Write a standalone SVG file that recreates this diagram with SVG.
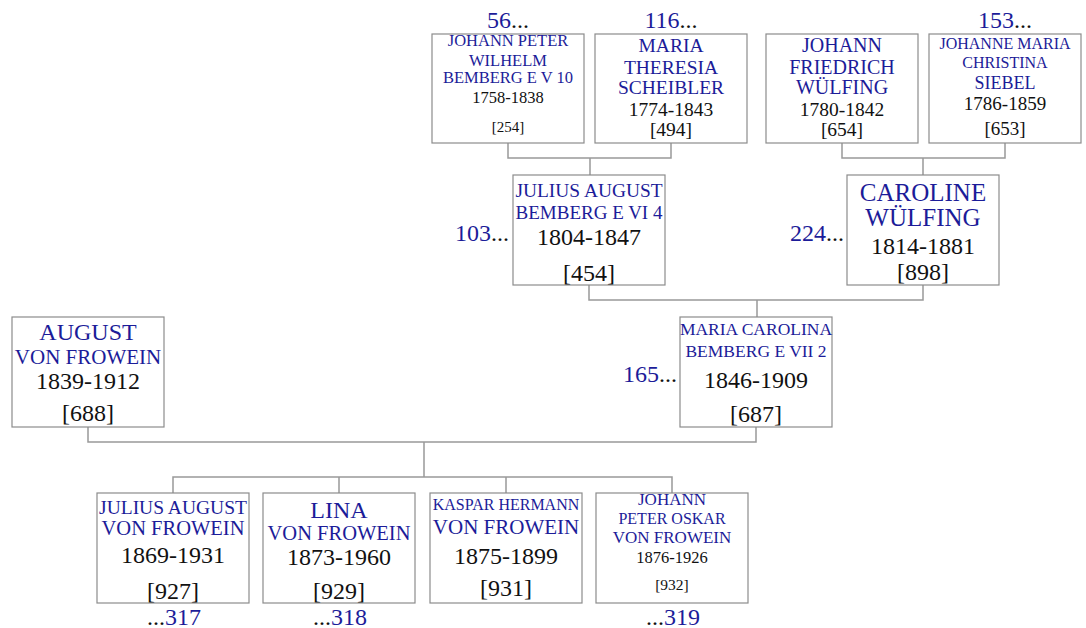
<svg xmlns="http://www.w3.org/2000/svg" width="1086" height="628" viewBox="0 0 1086 628">
<style>
text{font-family:"Liberation Serif","Times New Roman",serif;text-anchor:middle;fill:#111}
.box{fill:#fff;stroke:#8c8c8c;stroke-width:1.2}
.n{fill:#1c1c99}
.d{fill:#111}
.lnk{fill:none;stroke:#999;stroke-width:1.5}
.ref{font-size:24px}
.end{text-anchor:end}
</style>
<rect width="1086" height="628" fill="#fff"/>
<g id="connectors" class="lnk">
<path d="M508,143V158H671V143M590,158V175"/>
<path d="M842,143V158H1005V143M923,158V175"/>
<path d="M589,285V300H923V285M757,300V317"/>
<path d="M88,427V442H756V427M424,442V477"/>
<path d="M173,493V477H672V493M339,477V493M506,477V493"/>
</g>
<g id="n254">
<rect class="box" x="432" y="34" width="152" height="109"/>
<text class="n" x="508" y="45.5" font-size="16.5">JOHANN PETER</text>
<text class="n" x="508" y="65.5" font-size="16.5">WILHELM</text>
<text class="n" x="508" y="82.5" font-size="16.5">BEMBERG E V 10</text>
<text x="508" y="102.5" font-size="16.5">1758-1838</text>
<text x="508" y="131.5" font-size="15">[254]</text>
<text class="ref" x="508" y="28"><tspan class="n">56</tspan><tspan class="d">...</tspan></text>
</g>
<g id="n494">
<rect class="box" x="595" y="34" width="152" height="109"/>
<text class="n" x="671" y="51.5" font-size="19.5">MARIA</text>
<text class="n" x="671" y="73.5" font-size="19.5">THERESIA</text>
<text class="n" x="671" y="93.5" font-size="19.5">SCHEIBLER</text>
<text x="671" y="115.5" font-size="19.5">1774-1843</text>
<text x="671" y="136" font-size="19.5">[494]</text>
<text class="ref" x="671" y="28"><tspan class="n">116</tspan><tspan class="d">...</tspan></text>
</g>
<g id="n654">
<rect class="box" x="766" y="34" width="152" height="109"/>
<text class="n" x="842" y="51.5" font-size="20">JOHANN</text>
<text class="n" x="842" y="73.5" font-size="20">FRIEDRICH</text>
<text class="n" x="842" y="93.5" font-size="20">WÜLFING</text>
<text x="842" y="115.5" font-size="19.5">1780-1842</text>
<text x="842" y="136" font-size="19.5">[654]</text>
</g>
<g id="n653">
<rect class="box" x="929" y="34" width="152" height="109"/>
<text class="n" x="1005" y="48.5" font-size="16">JOHANNE MARIA</text>
<text class="n" x="1005" y="67.5" font-size="16">CHRISTINA</text>
<text class="n" x="1005" y="89" font-size="18">SIEBEL</text>
<text x="1005" y="109.5" font-size="19">1786-1859</text>
<text x="1005" y="134.5" font-size="19">[653]</text>
<text class="ref" x="1005" y="28"><tspan class="n">153</tspan><tspan class="d">...</tspan></text>
</g>
<g id="n454">
<rect class="box" x="513" y="175" width="152" height="110"/>
<text class="n" x="589" y="196.5" font-size="19.4">JULIUS AUGUST</text>
<text class="n" x="589" y="218.5" font-size="19">BEMBERG E VI 4</text>
<text x="589" y="245" font-size="24">1804-1847</text>
<text x="589" y="281" font-size="24">[454]</text>
<text class="ref end" x="509" y="241"><tspan class="n">103</tspan><tspan class="d">...</tspan></text>
</g>
<g id="n898">
<rect class="box" x="847" y="175" width="152" height="110"/>
<text class="n" x="923" y="201" font-size="25">CAROLINE</text>
<text class="n" x="923" y="226" font-size="25">WÜLFING</text>
<text x="923" y="254" font-size="24">1814-1881</text>
<text x="923" y="280" font-size="24">[898]</text>
<text class="ref end" x="844" y="241"><tspan class="n">224</tspan><tspan class="d">...</tspan></text>
</g>
<g id="n688">
<rect class="box" x="12" y="317" width="152" height="110"/>
<text class="n" x="88" y="340" font-size="24">AUGUST</text>
<text class="n" x="88" y="364" font-size="21">VON FROWEIN</text>
<text x="88" y="389" font-size="24">1839-1912</text>
<text x="88" y="421" font-size="24">[688]</text>
</g>
<g id="n687">
<rect class="box" x="680" y="317" width="152" height="110"/>
<text class="n" x="756" y="335" font-size="17.5">MARIA CAROLINA</text>
<text class="n" x="756" y="357" font-size="17.5">BEMBERG E VII 2</text>
<text x="756" y="388" font-size="24">1846-1909</text>
<text x="756" y="422" font-size="24">[687]</text>
<text class="ref end" x="677" y="382"><tspan class="n">165</tspan><tspan class="d">...</tspan></text>
</g>
<g id="n927">
<rect class="box" x="97" y="493" width="152" height="110"/>
<text class="n" x="173" y="513.5" font-size="19.5">JULIUS AUGUST</text>
<text class="n" x="173" y="535" font-size="20.5">VON FROWEIN</text>
<text x="173" y="563" font-size="24">1869-1931</text>
<text x="173" y="599" font-size="24">[927]</text>
<text class="ref" x="174" y="625"><tspan class="d">...</tspan><tspan class="n">317</tspan></text>
</g>
<g id="n929">
<rect class="box" x="263" y="493" width="152" height="110"/>
<text class="n" x="339" y="518" font-size="24">LINA</text>
<text class="n" x="339" y="540" font-size="20.5">VON FROWEIN</text>
<text x="339" y="565" font-size="24">1873-1960</text>
<text x="339" y="599" font-size="24">[929]</text>
<text class="ref" x="340" y="625"><tspan class="d">...</tspan><tspan class="n">318</tspan></text>
</g>
<g id="n931">
<rect class="box" x="430" y="493" width="152" height="110"/>
<text class="n" x="506" y="509.5" font-size="16">KASPAR HERMANN</text>
<text class="n" x="506" y="534" font-size="21">VON FROWEIN</text>
<text x="506" y="564" font-size="24">1875-1899</text>
<text x="506" y="596" font-size="24">[931]</text>
</g>
<g id="n932">
<rect class="box" x="596" y="493" width="152" height="110"/>
<text class="n" x="672" y="504.5" font-size="17">JOHANN</text>
<text class="n" x="672" y="523.5" font-size="16">PETER OSKAR</text>
<text class="n" x="672" y="542.5" font-size="17">VON FROWEIN</text>
<text x="672" y="562.5" font-size="16.5">1876-1926</text>
<text x="672" y="590" font-size="15.5">[932]</text>
<text class="ref" x="673" y="625"><tspan class="d">...</tspan><tspan class="n">319</tspan></text>
</g>
</svg>
